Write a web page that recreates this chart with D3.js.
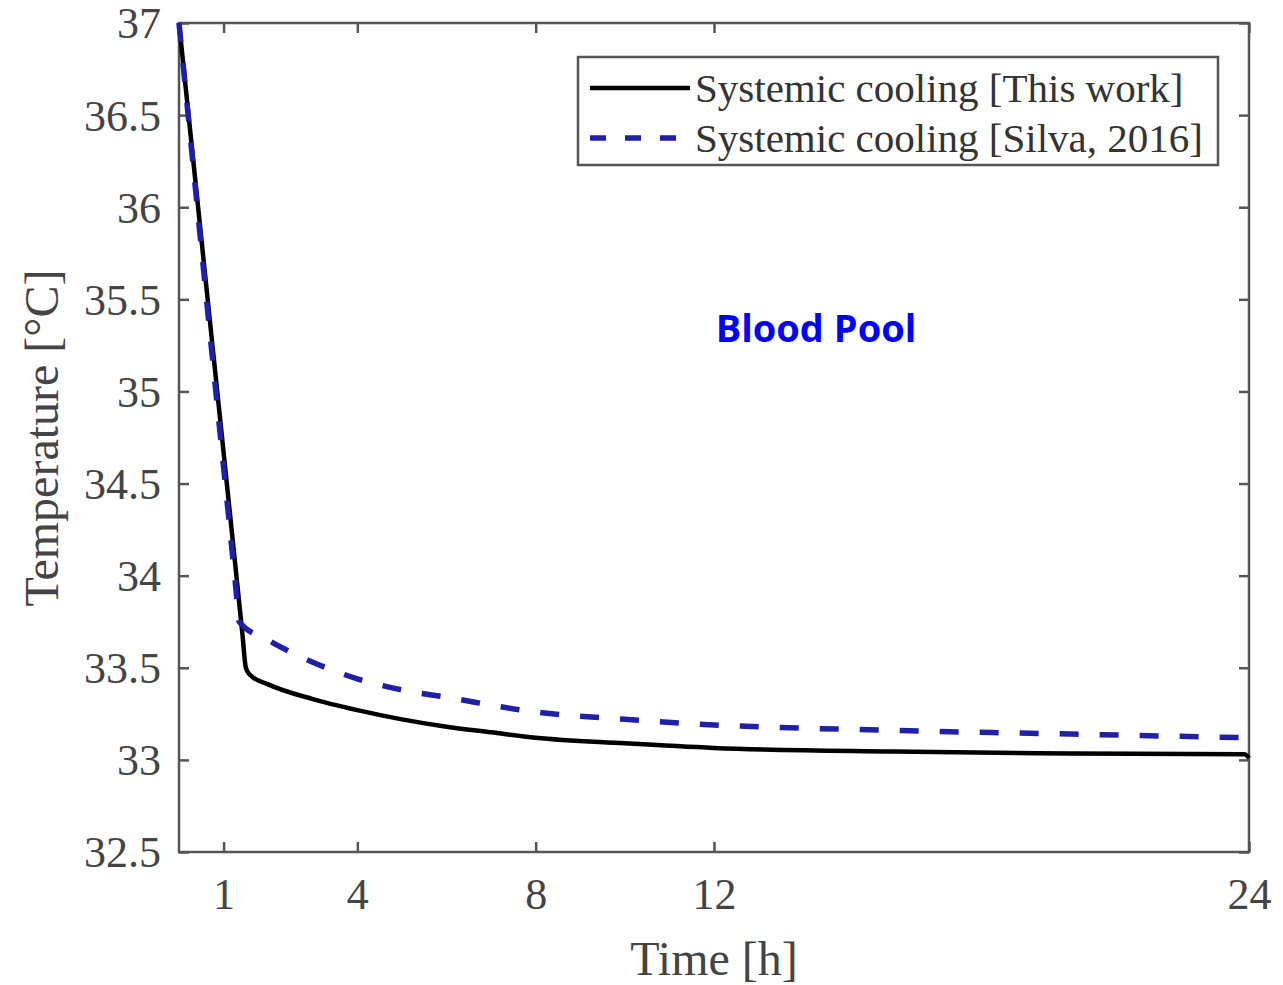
<!DOCTYPE html>
<html><head><meta charset="utf-8">
<script src="https://cdn.jsdelivr.net/npm/d3@7"></script>
<style>body{margin:0;background:#fff}svg{display:block}</style>
</head><body>
<script>
const timeThisWork = [0, 0.75, 1.42, 1.5, 1.6, 2, 3, 4, 5, 6, 7, 8, 10, 12, 16, 20, 23.9, 24];
const tempThisWork = [37, 35.25, 33.69, 33.5, 33.46, 33.41, 33.33, 33.27, 33.22, 33.18, 33.15, 33.12, 33.09, 33.065, 33.045, 33.035, 33.03, 33.01];
const timeSilva = [0, 0.7, 1.28, 1.35, 2, 3, 4, 5, 6, 8, 10, 12, 16, 20, 24];
const tempSilva = [37, 35.3, 33.92, 33.75, 33.65, 33.53, 33.44, 33.38, 33.34, 33.26, 33.22, 33.19, 33.16, 33.14, 33.12];
const xTicks = [1, 4, 8, 12, 24];
const yTicks = [32.5, 33, 33.5, 34, 34.5, 35, 35.5, 36, 36.5, 37];
const seriesNames = ["Systemic cooling [This work]", "Systemic cooling [Silva, 2016]"];
const annotation = "Blood Pool";

const W = 1283, H = 985;
const L = 179, R = 1249, T = 23, B = 852;
const svg = d3.select("body").append("svg").attr("width", W).attr("height", H);
const x = d3.scaleLinear().domain([0, 24]).range([L, R]);
const y = d3.scaleLinear().domain([32.5, 37]).range([B, T]);
const serif = "'Liberation Serif','Times New Roman',serif";
const axisCol = "#555";

// frame
svg.append("rect").attr("x", L).attr("y", T).attr("width", R - L).attr("height", B - T)
  .attr("fill", "none").attr("stroke", axisCol).attr("stroke-width", 2.5);

// axes with inward ticks
const fmtY = d => d3.format("")(d);
const gx = svg.append("g").attr("transform", `translate(0,${B})`)
  .call(d3.axisBottom(x).tickValues(xTicks).tickSizeInner(-10).tickSizeOuter(0).tickPadding(26));
const gxt = svg.append("g").attr("transform", `translate(0,${T})`)
  .call(d3.axisTop(x).tickValues(xTicks).tickSizeInner(-10).tickSizeOuter(0).tickFormat(""));
const gy = svg.append("g").attr("transform", `translate(${L},0)`)
  .call(d3.axisLeft(y).tickValues(yTicks).tickSizeInner(-10).tickSizeOuter(0).tickPadding(18).tickFormat(fmtY));
const gyr = svg.append("g").attr("transform", `translate(${R},0)`)
  .call(d3.axisRight(y).tickValues(yTicks).tickSizeInner(-10).tickSizeOuter(0).tickFormat(""));
[gx, gxt, gy, gyr].forEach(g => {
  g.select(".domain").remove();
  g.selectAll(".tick line").attr("stroke", axisCol).attr("stroke-width", 2.5);
  g.selectAll("text").attr("font-family", serif).attr("font-size", 44).attr("fill", "#444");
});
gx.selectAll("text").attr("dy", "0.71em");
gy.selectAll("text").attr("dy", "0.34em");

// lines
const line = d3.line().x(d => x(d[0])).y(d => y(d[1])).curve(d3.curveMonotoneX);
const dSilva = timeSilva.map((t, i) => [t, tempSilva[i]]);
const dThis = timeThisWork.map((t, i) => [t, tempThisWork[i]]);
svg.append("path").datum(dThis).attr("d", line).attr("fill", "none")
  .attr("stroke", "#000").attr("stroke-width", 4.5).attr("stroke-linejoin", "round");
svg.append("path").datum(dSilva).attr("d", line).attr("fill", "none")
  .attr("stroke", "#1f1fa8").attr("stroke-width", 5.5).attr("stroke-dasharray", "19 21");

// legend
const lg = svg.append("g");
lg.append("rect").attr("x", 578).attr("y", 57).attr("width", 640).attr("height", 108)
  .attr("fill", "#fff").attr("stroke", axisCol).attr("stroke-width", 2.5);
lg.append("line").attr("x1", 590).attr("x2", 690).attr("y1", 88).attr("y2", 88)
  .attr("stroke", "#000").attr("stroke-width", 4.5);
lg.append("line").attr("x1", 590).attr("x2", 690).attr("y1", 138).attr("y2", 138)
  .attr("stroke", "#1f1fa8").attr("stroke-width", 5.5).attr("stroke-dasharray", "16 19");
seriesNames.forEach((n, i) => {
  lg.append("text").attr("x", 695).attr("y", 88 + i * 50).attr("dy", "0.33em")
    .attr("font-family", serif).attr("font-size", 41).attr("fill", "#333").text(n);
});

// axis titles
svg.append("text").attr("x", 714).attr("y", 975).attr("text-anchor", "middle")
  .attr("font-family", serif).attr("font-size", 48).attr("fill", "#444").text("Time [h]");
svg.append("text").attr("transform", "translate(58,438) rotate(-90)").attr("text-anchor", "middle")
  .attr("font-family", serif).attr("font-size", 48).attr("fill", "#444").text("Temperature [°C]");

// annotation
svg.append("text").attr("x", 816).attr("y", 342).attr("text-anchor", "middle")
  .attr("font-family", "'Open Sans','Liberation Sans',sans-serif").attr("font-weight", "bold")
  .attr("font-size", 38).attr("fill", "#0000ff").text(annotation);
</script>
</body></html>
